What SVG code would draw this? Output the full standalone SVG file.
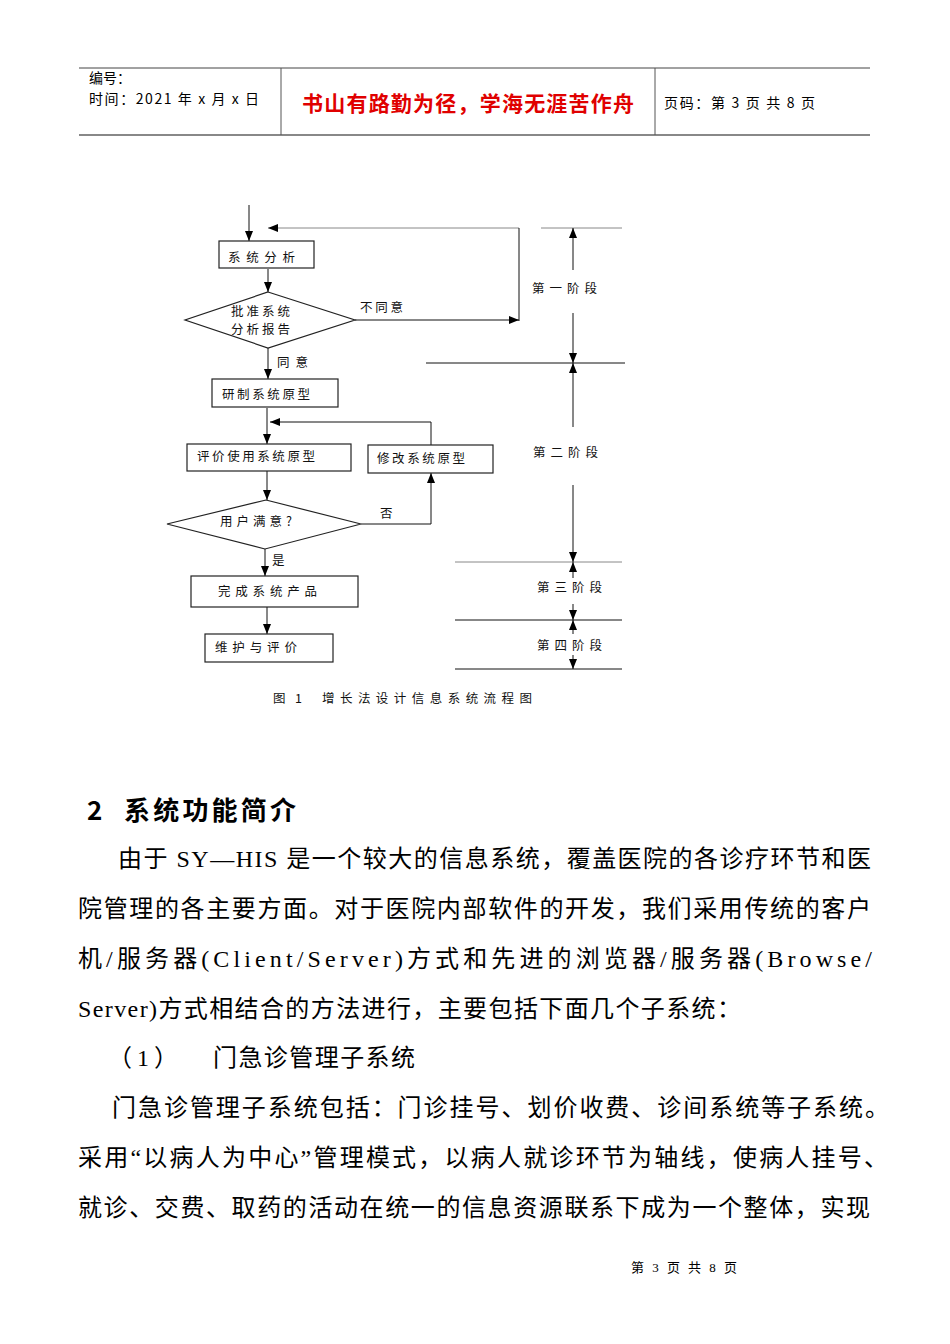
<svg xmlns="http://www.w3.org/2000/svg" width="950" height="1344" viewBox="0 0 950 1344">
<style>
.bg{fill:#ffffff}
.hd{font-family:"Noto Sans CJK SC","Liberation Sans",sans-serif;font-size:14px;fill:#000}
.red{font-family:"Noto Sans CJK SC",sans-serif;font-size:21px;font-weight:bold;fill:#e00000}
.box{fill:#fff;stroke:#222;stroke-width:1.2}
.lb{font-family:"Noto Sans CJK SC",sans-serif;font-size:12.5px;fill:#111}
.ln{fill:none;stroke:#111;stroke-width:1}
.lg{fill:none;stroke:#888;stroke-width:1}
.body{font-family:"Liberation Serif","Noto Sans CJK SC",serif;font-size:24px;fill:#000}
.h2{font-family:"Noto Sans CJK SC",sans-serif;font-size:26px;font-weight:bold;fill:#000}
.ft{font-family:"Liberation Serif","Noto Sans CJK SC",serif;font-size:13px;fill:#000}
</style>
<defs>
<marker id="ah" markerUnits="userSpaceOnUse" markerWidth="10" markerHeight="8" viewBox="0 0 10 8" refX="10" refY="4" orient="auto">
<path d="M0,0 L10,4 L0,8 z" fill="#000"/>
</marker>
</defs>
<rect class="bg" x="0" y="0" width="950" height="1344"/>

<g id="header">
<line x1="79" y1="68" x2="870" y2="68" stroke="#444" stroke-width="1"/>
<line x1="79" y1="135" x2="870" y2="135" stroke="#888" stroke-width="2"/>
<line x1="281" y1="68" x2="281" y2="135" stroke="#555" stroke-width="1"/>
<line x1="655" y1="68" x2="655" y2="135" stroke="#555" stroke-width="1"/>
<text class="hd" x="89" y="83">编号：</text>
<text class="hd" x="89" y="104" textLength="170">时间：2021 年 x 月 x 日</text>
<text class="red" x="302" y="111" textLength="332">书山有路勤为径，学海无涯苦作舟</text>
<text class="hd" x="664" y="108" textLength="151">页码：第 3 页  共 8 页</text>
</g>

<g id="connectors">
<line class="ln" x1="249" y1="205" x2="249" y2="241" marker-end="url(#ah)"/>
<polyline class="lg" points="519,228 268,228" marker-end="url(#ah)"/>
<line class="ln" x1="519" y1="228" x2="519" y2="321"/>
<line class="ln" x1="355" y1="320" x2="519" y2="320" marker-end="url(#ah)"/>
<line class="ln" x1="268" y1="269" x2="268" y2="292" marker-end="url(#ah)"/>
<line class="ln" x1="268" y1="348" x2="268" y2="379" marker-end="url(#ah)"/>
<line class="ln" x1="267" y1="408" x2="267" y2="444" marker-end="url(#ah)"/>
<polyline class="ln" points="431,445 431,422 270,422" marker-end="url(#ah)"/>
<line class="ln" x1="267" y1="471" x2="267" y2="500" marker-end="url(#ah)"/>
<polyline class="ln" points="361,524 431,524 431,473" marker-end="url(#ah)"/>
<line class="ln" x1="265" y1="549" x2="265" y2="576" marker-end="url(#ah)"/>
<line class="ln" x1="267" y1="607" x2="267" y2="634" marker-end="url(#ah)"/>
<text class="lb" x="360" y="312" textLength="43">不同意</text>
<text class="lb" x="277" y="367" textLength="31">同意</text>
<text class="lb" x="380" y="518">否</text>
<text class="lb" x="272" y="565">是</text>
</g>

<g id="n-analysis">
<rect class="box" x="219" y="241" width="95" height="27"/>
<text class="lb" x="228" y="262" textLength="67">系统分析</text>
</g>
<g id="n-approve">
<polygon class="box" points="268,292 355,320 268,348 185,320"/>
<text class="lb" x="231" y="316" textLength="59" font-size="10">批准系统</text>
<text class="lb" x="231" y="334" textLength="59" font-size="10">分析报告</text>
</g>
<g id="n-prototype">
<rect class="box" x="212" y="379" width="126" height="28"/>
<text class="lb" x="222" y="399" textLength="88">研制系统原型</text>
</g>
<g id="n-evaluate">
<rect class="box" x="187" y="444" width="164" height="27"/>
<text class="lb" x="197" y="461" textLength="118">评价使用系统原型</text>
</g>
<g id="n-modify">
<rect class="box" x="368" y="445" width="125" height="28"/>
<text class="lb" x="377" y="463" textLength="88">修改系统原型</text>
</g>
<g id="n-satisfied">
<polygon class="box" points="266,500 361,524 265,549 167,524"/>
<text class="lb" x="220" y="526" textLength="72">用户满意?</text>
</g>
<g id="n-finish">
<rect class="box" x="191" y="576" width="167" height="31"/>
<text class="lb" x="218" y="596" textLength="99">完成系统产品</text>
</g>
<g id="n-maintain">
<rect class="box" x="205" y="634" width="128" height="28"/>
<text class="lb" x="215" y="652" textLength="82">维护与评价</text>
</g>

<g id="stages">
<line class="lg" x1="541" y1="228" x2="622" y2="228"/>
<line class="ln" x1="426" y1="363" x2="625" y2="363"/>
<line class="lg" x1="455" y1="562" x2="622" y2="562"/>
<line class="ln" x1="455" y1="620" x2="622" y2="620"/>
<line class="ln" x1="455" y1="669" x2="622" y2="669"/>
<line class="ln" x1="573" y1="270" x2="573" y2="228" marker-end="url(#ah)"/>
<line class="ln" x1="573" y1="313" x2="573" y2="363" marker-end="url(#ah)"/>
<line class="ln" x1="573" y1="427" x2="573" y2="363" marker-end="url(#ah)"/>
<line class="ln" x1="573" y1="485" x2="573" y2="562" marker-end="url(#ah)"/>
<line class="ln" x1="573" y1="578" x2="573" y2="562" marker-end="url(#ah)"/>
<line class="ln" x1="573" y1="604" x2="573" y2="620" marker-end="url(#ah)"/>
<line class="ln" x1="573" y1="634" x2="573" y2="620" marker-end="url(#ah)"/>
<line class="ln" x1="573" y1="655" x2="573" y2="669" marker-end="url(#ah)"/>
<text class="lb" x="532" y="293" textLength="65">第一阶段</text>
<text class="lb" x="533" y="457" textLength="65">第二阶段</text>
<text class="lb" x="537" y="592" textLength="65">第三阶段</text>
<text class="lb" x="537" y="650" textLength="65">第四阶段</text>
</g>

<g id="caption">
<text class="lb" x="273" y="703">图</text>
<text class="lb" x="295" y="703">1</text>
<text class="lb" x="322" y="703" textLength="210">增长法设计信息系统流程图</text>
</g>

<g id="text-body">
<text class="h2" x="87" y="820" font-family="Liberation Serif, serif" font-weight="normal">2</text>
<text class="h2" x="124" y="820" textLength="172">系统功能简介</text>
<text class="body" x="118" y="867" textLength="753">由于 SY—HIS 是一个较大的信息系统，覆盖医院的各诊疗环节和医</text>
<text class="body" x="78" y="917" textLength="793">院管理的各主要方面。对于医院内部软件的开发，我们采用传统的客户</text>
<text class="body" x="78" y="967" textLength="794">机/服务器(Client/Server)方式和先进的浏览器/服务器(Browse/</text>
<text class="body" x="78" y="1017" textLength="663">Server)方式相结合的方法进行，主要包括下面几个子系统：</text>
<text class="body" x="108" y="1066" textLength="70">（1）</text>
<text class="body" x="213" y="1066" textLength="202">门急诊管理子系统</text>
<text class="body" x="112" y="1116" textLength="777">门急诊管理子系统包括：门诊挂号、划价收费、诊间系统等子系统。</text>
<text class="body" x="78" y="1166" textLength="810">采用“以病人为中心”管理模式，以病人就诊环节为轴线，使病人挂号、</text>
<text class="body" x="78" y="1216" textLength="792">就诊、交费、取药的活动在统一的信息资源联系下成为一个整体，实现</text>
</g>

<g id="footer">
<text class="ft" x="631" y="1272" textLength="106">第 3 页 共 8 页</text>
</g>
</svg>
